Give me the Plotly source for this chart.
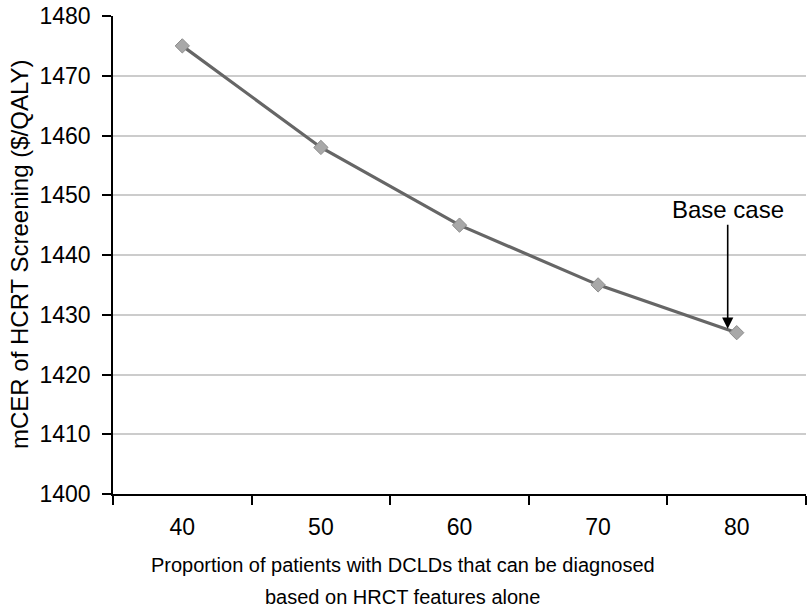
import plotly.graph_objects as go

categories = ["40", "50", "60", "70", "80"]
mcer = [1475, 1458, 1445, 1435, 1427]
y_ticks = [1400, 1410, 1420, 1430, 1440, 1450, 1460, 1470, 1480]
base_case_index = 4
x_title_lines = ["Proportion of patients with DCLDs that can be diagnosed",
                 "based on HRCT features alone"]
y_title = "mCER of HCRT Screening ($/QALY)"

FONT = "Liberation Sans, Arial, Helvetica, sans-serif"

fig = go.Figure()
fig.add_trace(go.Scatter(
    x=categories, y=mcer, mode="lines+markers",
    line=dict(color="#666666", width=3.2),
    marker=dict(symbol="diamond", size=11, color="#a8a8a8",
                line=dict(color="#8c8c8c", width=1)),
    showlegend=False,
))

# "Base case" arrow annotation
fig.add_annotation(
    x=base_case_index, y=mcer[base_case_index], xref="x", yref="y",
    text="Base case", showarrow=True, xshift=-9,
    ax=0, ay=-123, arrowhead=2, arrowsize=1.4, arrowwidth=1.6,
    arrowcolor="black", standoff=4,
    font=dict(family=FONT, size=24, color="black"),
)

# x-axis title (two lines)
for i, line in enumerate(x_title_lines):
    fig.add_annotation(
        x=0.5, y=0, xref="paper", yref="paper", xshift=-57,
        yshift=-(71 + 32 * i), yanchor="middle", xanchor="center",
        text=line, showarrow=False,
        font=dict(family=FONT, size=20, color="black"),
    )

# y-axis title
fig.add_annotation(
    x=0, y=0.5, xref="paper", yref="paper", xshift=-94,
    xanchor="center", yanchor="middle", textangle=-90,
    text=y_title, showarrow=False,
    font=dict(family=FONT, size=24, color="black"),
)

fig.update_layout(
    width=808, height=609,
    margin=dict(l=113, r=2, t=16, b=115, autoexpand=False),
    plot_bgcolor="white", paper_bgcolor="white",
    font=dict(family=FONT, size=20, color="black"),
    xaxis=dict(
        type="category", range=[-0.5, 4.5], automargin=False,
        showline=True, linecolor="black", linewidth=1.5,
        ticks="outside", ticklen=9, tickcolor="black", tickwidth=1.5,
        tickson="boundaries", showgrid=False,
        tickfont=dict(size=23), ticklabelstandoff=12,
        ticklabeloverflow="allow",
    ),
    yaxis=dict(
        range=[1400, 1480], tickvals=y_ticks, automargin=False,
        showline=True, linecolor="black", linewidth=1.5,
        ticks="outside", ticklen=9, tickcolor="black", tickwidth=1.5,
        showgrid=True, gridcolor="#cccccc", gridwidth=1.5,
        zeroline=False, tickfont=dict(size=23), ticklabelstandoff=7,
        ticklabeloverflow="allow",
    ),
)

fig.write_html("out.html",
               config={"displayModeBar": False},
               post_script="document.body.style.margin='0';document.body.style.overflow='hidden';")
